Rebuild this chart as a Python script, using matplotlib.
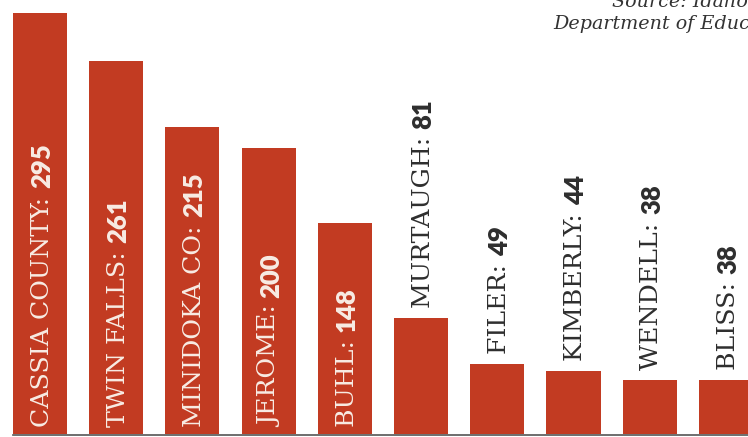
import matplotlib.pyplot as plt

names = ["CASSIA COUNTY", "TWIN FALLS", "MINIDOKA CO:", "JEROME", "BUHL",
         "MURTAUGH", "FILER", "KIMBERLY", "WENDELL", "BLISS"]
values = [295, 261, 215, 200, 148, 81, 49, 44, 38, 38]
inside = [True, True, True, True, True, False, False, False, False, False]

BAR_COLOR = "#c23b22"
IN_TEXT = "#f8ece4"
OUT_TEXT = "#2e2e2e"

fig = plt.figure(figsize=(7.48, 4.37), dpi=100)
ax = fig.add_axes([0, 0, 1, 1])

x = list(range(len(values)))
ax.bar(x, values, width=0.71, color=BAR_COLOR, zorder=2)
ax.set_xlim(-0.525, 9.29)
ax.set_ylim(-2.3, 304)
ax.axhline(-0.8, xmin=0.017, xmax=1, color="#555555", lw=1.2, zorder=3)
ax.axis("off")

for i, (name, v, ins) in enumerate(zip(names, values, inside)):
    if ins:
        y0, col = 5, IN_TEXT
    else:
        y0, col = v + 7, OUT_TEXT
    # name in slab serif, then the number in bold sans right after it
    label = name if name.endswith(":") else name + ":"
    t = ax.text(i + 0.03, y0, label + " ", rotation=90, ha="center", va="bottom",
                fontsize=18.2, family="DejaVu Serif", color=col, zorder=4)
    ax.annotate(str(v), xy=(0.5, 1), xycoords=t, rotation=90, ha="center",
                va="bottom", fontsize=18.5, family="Lato", fontweight="heavy",
                color=col, zorder=4)

fig.text(612 / 748, 1 - 2 / 437, "Source: Idaho State", ha="left", va="center",
         fontsize=13.8, family="DejaVu Serif", style="italic", color="#333333")
fig.text(553 / 748, 1 - 24 / 437, "Department of Education", ha="left", va="center",
         fontsize=13.8, family="DejaVu Serif", style="italic", color="#333333")

fig.savefig("out.png", dpi=100)
